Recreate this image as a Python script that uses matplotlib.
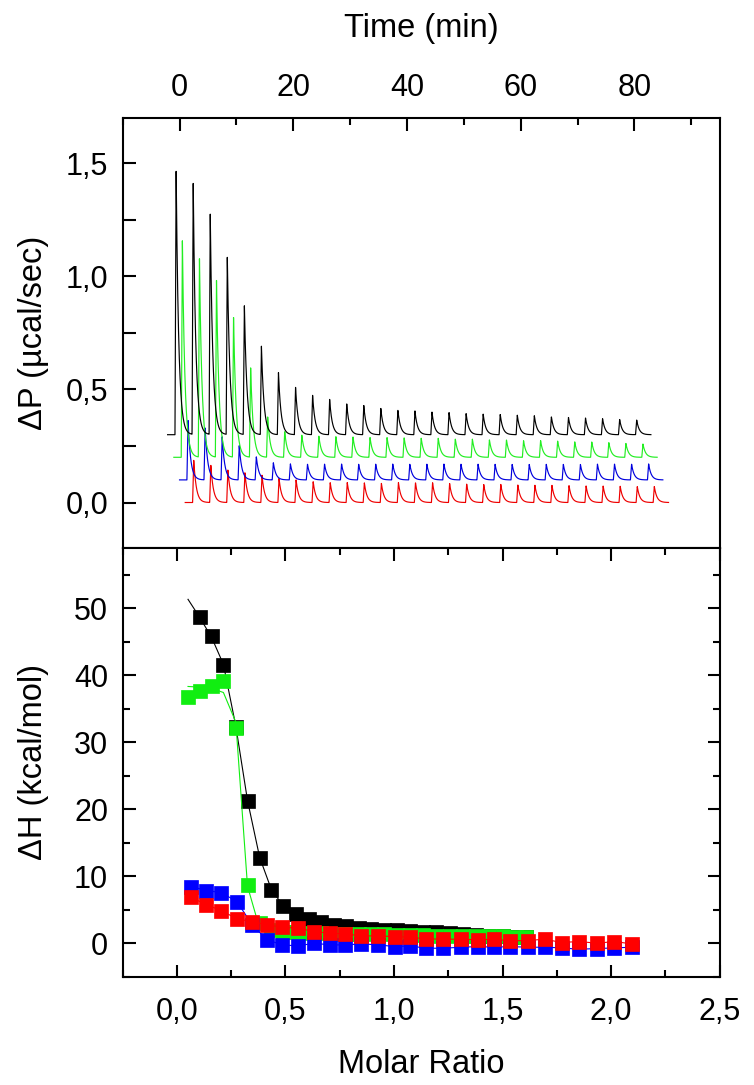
import matplotlib.pyplot as plt
import numpy as np
from matplotlib.ticker import FuncFormatter, MultipleLocator

plt.rcParams["font.family"] = ["Liberation Sans", "DejaVu Sans"]

# -- raw ITC thermograms (top panel) --
# injection times (min) relative to the first injection of each run
injection_times = [0.0, 3.0, 6.0, 9.0, 12.0, 15.0, 18.0, 21.0, 24.0, 27.0,
                   30.0, 33.0, 36.0, 39.0, 42.0, 45.0, 48.0, 51.0, 54.0, 57.0,
                   60.0, 63.0, 66.0, 69.0, 72.0, 75.0, 78.0, 81.0]

# first-injection time (min) and baseline offset (µcal/sec) for each run
run_start = {"black": -0.6, "green": 0.5, "blue": 1.5, "red": 2.5}
run_base = {"black": 0.30, "green": 0.20, "blue": 0.10, "red": 0.00}

# peak maxima (µcal/sec)
peaks_black = [1.475, 1.424, 1.279, 1.088, 0.877, 0.693, 0.575, 0.512, 0.475, 0.456,
               0.438, 0.430, 0.416, 0.409, 0.406, 0.400, 0.399, 0.394, 0.391, 0.390,
               0.387, 0.384, 0.379, 0.377, 0.374, 0.371, 0.368, 0.365]
peaks_green = [1.166, 1.088, 0.985, 0.821, 0.600, 0.379, 0.313, 0.299, 0.294, 0.291,
               0.291, 0.288, 0.287, 0.287, 0.285, 0.284, 0.281, 0.281, 0.277, 0.277,
               0.274, 0.274, 0.272, 0.269, 0.268, 0.265, 0.262, 0.259]
peaks_blue = [0.365, 0.332, 0.291, 0.252, 0.203, 0.176, 0.171, 0.170, 0.170, 0.170,
              0.170, 0.170, 0.170, 0.170, 0.170, 0.170, 0.170, 0.170, 0.169, 0.169,
              0.169, 0.169, 0.169, 0.169, 0.170, 0.170, 0.170, 0.171]
peaks_red = [0.188, 0.166, 0.144, 0.132, 0.122, 0.107, 0.100, 0.093, 0.088, 0.088,
             0.088, 0.085, 0.088, 0.088, 0.088, 0.084, 0.082, 0.080, 0.080, 0.078,
             0.077, 0.076, 0.075, 0.074, 0.073, 0.072, 0.071, 0.071]

# -- integrated heats (bottom panel) --
ratio_bg = [0.051, 0.105, 0.160, 0.214, 0.271, 0.325, 0.381, 0.435, 0.489, 0.547,
            0.606, 0.664, 0.722, 0.780, 0.838, 0.896, 0.955, 1.013, 1.073, 1.134,
            1.195, 1.256, 1.317, 1.378, 1.439, 1.500, 1.561, 1.610]
ratio_rb = [0.066, 0.136, 0.205, 0.276, 0.348, 0.415, 0.486, 0.558, 0.632, 0.704,
            0.776, 0.850, 0.927, 1.003, 1.073, 1.147, 1.227, 1.308, 1.389, 1.461,
            1.535, 1.617, 1.694, 1.772, 1.850, 1.936, 2.014, 2.095]

# black: first injection discarded
dh_black = [48.7, 45.8, 41.5, 32.3, 21.2, 12.7, 8.0, 5.5, 4.4, 3.6,
            3.1, 2.7, 2.5, 2.2, 2.1, 2.0, 1.9, 1.8, 1.7, 1.6,
            1.5, 1.3, 1.2, 1.1, 1.0, 0.9, 0.9]
fit_black = [51.3, 48.6, 45.6, 41.6, 32.4, 21.3, 12.8, 8.0, 5.6, 4.4,
             3.6, 3.1, 2.7, 2.5, 2.2, 2.1, 2.0, 1.9, 1.8, 1.7,
             1.6, 1.5, 1.3, 1.2, 1.1, 1.0, 0.9, 0.9]
dh_green = [36.7, 37.6, 38.4, 39.1, 32.1, 8.7, 3.0, 2.0, 1.7, 1.6,
            1.5, 1.5, 1.4, 1.4, 1.3, 1.3, 1.3, 1.2, 1.2, 1.2,
            1.1, 1.1, 1.1, 1.0, 1.0, 1.0, 0.9, 0.9]
fit_green = [38.3, 38.2, 38.0, 37.4, 33.0, 8.5, 2.2, 1.6, 1.5, 1.5,
             1.5, 1.4, 1.4, 1.4, 1.3, 1.3, 1.3, 1.2, 1.2, 1.2,
             1.1, 1.1, 1.1, 1.0, 1.0, 1.0, 0.9, 0.9]
dh_blue = [8.45, 7.85, 7.55, 6.2, 2.7, 0.5, -0.25, -0.4, 0.0, -0.25,
           -0.25, -0.1, -0.25, -0.5, -0.4, -0.75, -0.75, -0.6, -0.5, -0.6,
           -0.5, -0.6, -0.6, -0.7, -0.9, -0.8, -0.7, -0.6]
dh_red = [6.86, 5.72, 4.87, 3.63, 3.23, 2.73, 2.39, 2.24, 1.74, 1.49,
          1.39, 1.09, 1.09, 0.99, 0.89, 0.65, 0.60, 0.60, 0.50, 0.60,
          0.35, 0.40, 0.60, 0.10, 0.25, 0.00, 0.25, -0.10]

colors = {"black": "#000000", "green": "#11ee11", "blue": "#0000ff", "red": "#ff0000"}
trace_colors = {"black": "#000000", "green": "#22ee22", "blue": "#0000dd", "red": "#ee0000"}


def thermogram(t0, base, peaks):
    t = np.linspace(t0 - 1.5, t0 + injection_times[-1] + 2.5, 8000)
    y = np.full_like(t, base)
    for ti, p in zip(injection_times, peaks):
        d = t - (ti + t0)
        rise = (d > -0.2) & (d <= 0)
        y[rise] += (p - base) * (1 + d[rise] / 0.2)
        fall = d > 0
        y[fall] += (p - base) * np.exp(-d[fall] / 0.45)
    return t, y


def comma(v, pos):
    return f"{v:.1f}".replace(".", ",")


fig = plt.figure(figsize=(7.54, 10.85), dpi=100)
ax1 = fig.add_axes([0.1627, 0.4952, 0.7918, 0.3958])
ax2 = fig.add_axes([0.1627, 0.0998, 0.7918, 0.3954])

# -- top panel --
for name, peaks in [("red", peaks_red), ("blue", peaks_blue),
                    ("green", peaks_green), ("black", peaks_black)]:
    t, y = thermogram(run_start[name], run_base[name], peaks)
    ax1.plot(t, y, color=trace_colors[name], lw=0.85)

ax1.set_xlim(-10, 95)
ax1.set_ylim(-0.2, 1.7)
ax1.xaxis.set_major_locator(MultipleLocator(20))
ax1.xaxis.set_minor_locator(MultipleLocator(10))
ax1.yaxis.set_major_locator(MultipleLocator(0.5))
ax1.yaxis.set_minor_locator(MultipleLocator(0.25))
ax1.yaxis.set_major_formatter(FuncFormatter(comma))
ax1.tick_params(axis="x", which="both", direction="in", top=True, bottom=False,
                labeltop=True, labelbottom=False, width=1.5, labelsize=22, pad=10.9)
ax1.tick_params(axis="x", which="major", length=9)
ax1.tick_params(axis="x", which="minor", length=5)
ax1.tick_params(axis="y", which="both", direction="in", left=True, right=False,
                width=1.5, length=9.5, labelsize=22, pad=10.4)

# -- bottom panel --
ax2.plot(ratio_bg, fit_black, color=colors["black"], lw=0.8)
ax2.plot(ratio_bg[1:], dh_black, "s", color=colors["black"], ms=10, mew=0.5)
ax2.plot(ratio_bg, fit_green, color=colors["green"], lw=0.8)
ax2.plot(ratio_bg, dh_green, "s", color=colors["green"], ms=10, mew=0.5)
ax2.plot(ratio_rb, dh_blue, "s-", color=colors["blue"], lw=0.8, ms=10, mew=0.5)
ax2.plot(ratio_rb, dh_red, "s-", color=colors["red"], lw=0.8, ms=10, mew=0.5)

ax2.set_xlim(-0.25, 2.5)
ax2.set_ylim(-5, 59)
ax2.xaxis.set_major_locator(MultipleLocator(0.5))
ax2.xaxis.set_minor_locator(MultipleLocator(0.25))
ax2.xaxis.set_major_formatter(FuncFormatter(comma))
ax2.yaxis.set_major_locator(MultipleLocator(10))
ax2.yaxis.set_minor_locator(MultipleLocator(5))
ax2.tick_params(axis="both", which="both", direction="in", top=True, right=True,
                width=1.5, labelsize=22)
ax2.tick_params(axis="both", which="major", length=9)
ax2.tick_params(axis="both", which="minor", length=5)
ax2.tick_params(axis="x", pad=14.4)
ax2.tick_params(axis="y", pad=10.4)

for ax in (ax1, ax2):
    for sp in ax.spines.values():
        sp.set_linewidth(1.5)

fig.text(0.5586, 0.9656, "Time (min)", fontsize=23.5, ha="center", va="baseline")
fig.text(0.5586, 0.0113, "Molar Ratio", fontsize=23.5, ha="center", va="baseline")
fig.text(0.0438, 0.6931, "ΔP (µcal/sec)", fontsize=23.5, rotation=90,
         ha="center", va="center")
fig.text(0.0438, 0.2975, "ΔH (kcal/mol)", fontsize=23.5, rotation=90,
         ha="center", va="center")

fig.savefig("out.png", dpi=100)
